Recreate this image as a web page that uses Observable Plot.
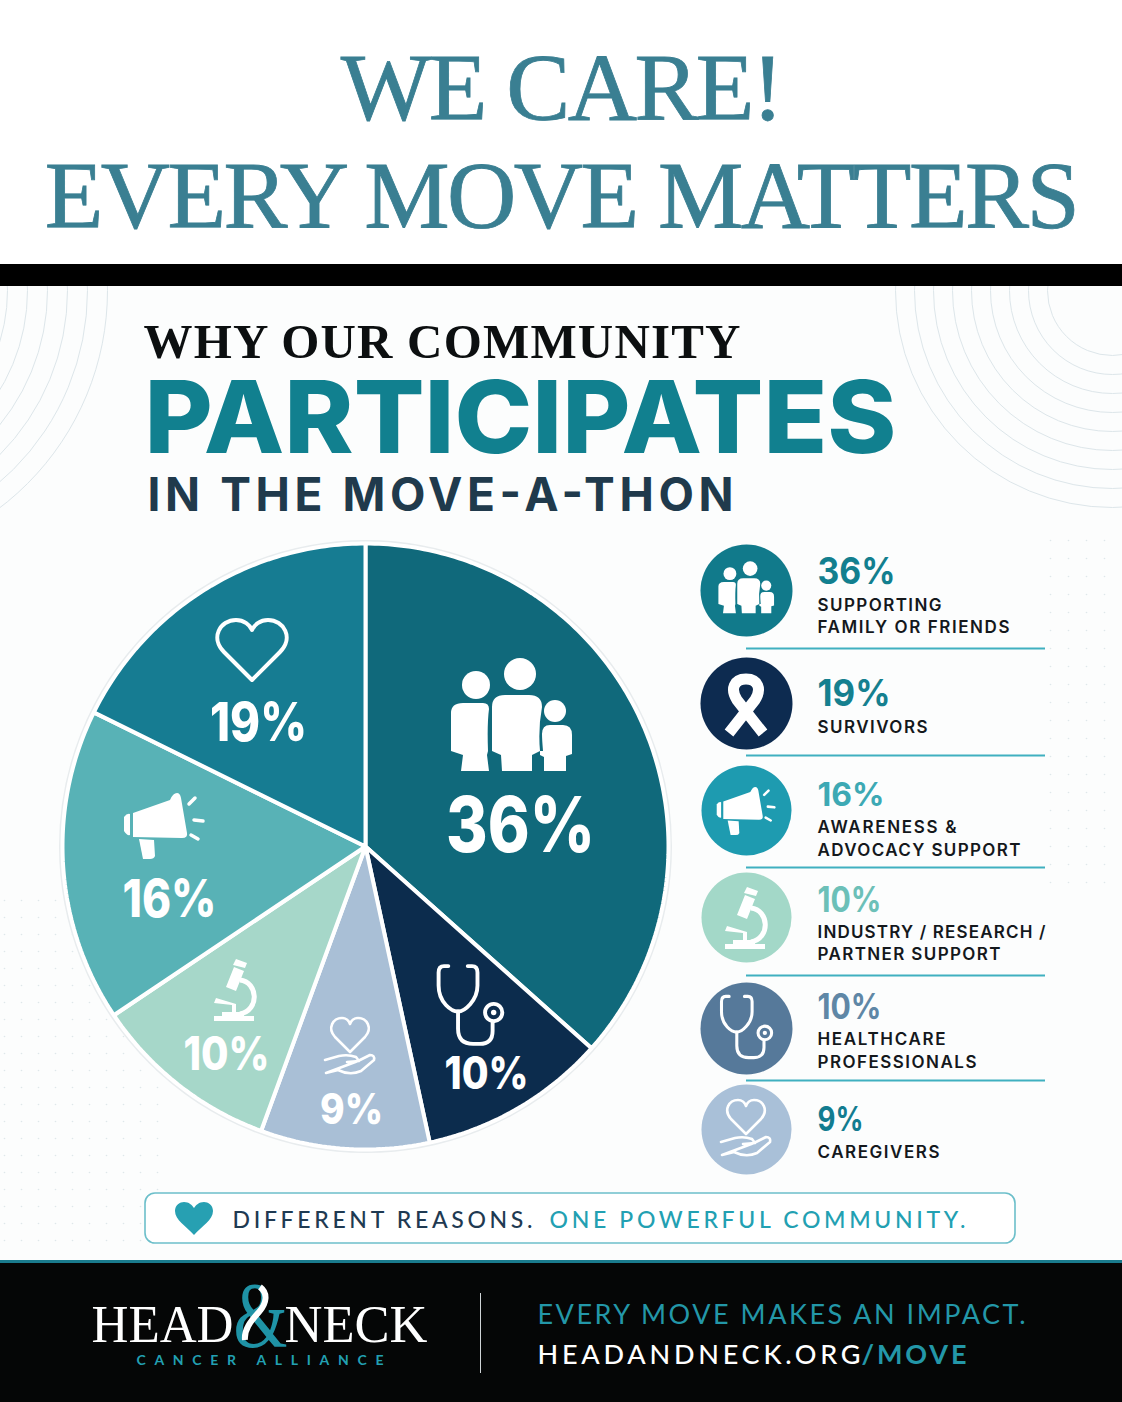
<!DOCTYPE html>
<html>
<head>
<meta charset="utf-8">
<script src="https://cdn.jsdelivr.net/npm/d3@7"></script>
<script src="https://cdn.jsdelivr.net/npm/@observablehq/plot@0.6"></script>
<style>
  html, body { margin: 0; padding: 0; background: #fff; width: 1122px; overflow-x: hidden; }
  h1 { margin: 0; height: 264px; box-sizing: border-box; padding-top: 34px; text-align: center;
       font: 400 96px/108px "Liberation Serif", serif; color: #3a7f92; letter-spacing: -2.6px; white-space: nowrap;
       -webkit-text-stroke: 0.8px #3a7f92; }
  .bar { height: 22px; background: #000; }
  #chart svg { display: block; overflow: hidden; background: #fcfdfd; }
</style>
</head>
<body>
<h1>WE CARE!<br>EVERY MOVE MATTERS</h1>
<div class="bar"></div>
<div id="chart"></div>
<script>
// ---------- Data ----------
const pieCategories = ["Supporting family or friends", "Healthcare professionals", "Caregivers", "Industry / research / partner support", "Awareness & advocacy support", "Survivors"];
const pieValues = [36, 10, 9, 10, 16, 19];          // printed labels
const sliceSweeps = [36.6, 10, 9, 10, 16.7, 17.7];
const legendValues = [36, 19, 16, 10, 10, 9];
const legendLabels = [
  ["SUPPORTING", "FAMILY OR FRIENDS"],
  ["SURVIVORS"],
  ["AWARENESS &", "ADVOCACY SUPPORT"],
  ["INDUSTRY / RESEARCH /", "PARTNER SUPPORT"],
  ["HEALTHCARE", "PROFESSIONALS"],
  ["CAREGIVERS"]
];

// ---------- Styles & layout ----------
const pieColors = ["#10697b", "#0c2c4d", "#a9bfd6", "#a6d7c9", "#58b2b6", "#167c92"];
const legendColors = ["#117a8b", "#0d2b50", "#1e9bb0", "#a3d8c8", "#56799a", "#a9c0d8"];
const legendPctColors = ["#127f8f", "#15808f", "#3da9b4", "#6cc0b8", "#5f87a6", "#127c90"];
const sans = "Inter, 'Noto Sans', sans-serif";
const lato = "Lato, 'Noto Sans', sans-serif";
const serif = "'Liberation Serif', serif";
const W = 1122, TOP = 286, BOTTOM = 1402;
const pieC = {x: 365, y: 846, r: 303};

const arcs = d3.pie().sort(null)(sliceSweeps);
const slices = arcs.flatMap((a, i) => {
  const n = Math.ceil((a.endAngle - a.startAngle) / 0.015);
  const pts = [{name: pieCategories[i], x: pieC.x, y: pieC.y}];
  for (let k = 0; k <= n; ++k) {
    const t = a.startAngle + (a.endAngle - a.startAngle) * k / n;
    pts.push({name: pieCategories[i], x: pieC.x + pieC.r * Math.sin(t), y: pieC.y - pieC.r * Math.cos(t)});
  }
  return pts;
});

const ICONS = {
  family: `<g fill="#fff"><circle cx="-35" cy="-29" r="14"/><circle cx="9" cy="-40" r="16"/><circle cx="44" cy="-3" r="11"/>
    <path d="M-60 37V-1Q-60 -11 -48 -11H-28Q-22 -11 -22 -5Q-24 10 -23 37L-24 41L-22 57H-50L-48 41Z"/>
    <path d="M-19 37V-7Q-19 -19 -6 -19H18Q31 -19 31 -7Q27 15 29 37L21 41V57H-9L-10 41Z"/>
    <path d="M29 37H32Q31 25 31 20Q31 11 39 11H52Q61 11 61 21V40L55 42V57H33V43L29 41Z"/></g>`,
  heart: `<path fill="none" stroke="#fff" stroke-width="4" stroke-linejoin="round" d="M0 30L-28 2C-42 -12 -32 -30 -16 -30C-8 -30 -2 -25 0 -20C2 -25 8 -30 16 -30C32 -30 42 -12 28 2Z"/>`,
  megaphone: `<g fill="#fff"><path d="M-27 -13L10 -26Q13 -33 17 -33Q20 -33 21 -28L27 7Q28 12 22 12L-27 11Z"/>
    <path d="M-36 -9Q-33 -13 -30 -12V9Q-33 10 -36 5Z"/><path d="M-21 13L-6 14L-5 30Q-6 33 -10 33L-17 33Z"/></g>
    <path fill="none" stroke="#fff" stroke-width="3.5" stroke-linecap="round" d="M29 -22L35 -28M34 -6L43 -5M31 9L38 13"/>`,
  microscope: `<g fill="#fff"><rect x="-20" y="26" width="40" height="5"/><path d="M-8 -3L0 -23L10 -19L2 1Z"/><path d="M-1 -25L2 -31L13 -27L11 -22Z"/>
    <path d="M-20 13L-2 15L-2 22H-12V26H10V22H2V14L-18 8Z"/></g>
    <path fill="none" stroke="#fff" stroke-width="5" d="M6 -10C24 -8 26 20 6 24"/>`,
  hand: `<path fill="none" stroke="#fff" stroke-width="2.6" stroke-linejoin="round" stroke-linecap="round" d="M0 6L-15 -9C-23 -18 -17 -28 -8 -28C-4 -28 -1 -25 0 -22C1 -25 4 -28 8 -28C17 -28 23 -18 15 -9Z M-25 14L-11 10Q-2 8 6 11L9 15L-3 16M8 15L20 9Q25 9 24 14L11 25Q0 30 -12 24L-24 27Z"/>`,
  stethoscope: `<g fill="none" stroke="#fff" stroke-width="3.6" stroke-linecap="round"><path d="M-21 -36H-25Q-30 -36 -30 -30V-18C-30 -2 -18 6 -12 6C-6 6 6 -4 6 -18V-30Q6 -36 1 -36H-3"/>
    <path d="M-12 6V22Q-12 36 2 36H8Q20 36 20 24V16"/><circle cx="21" cy="7" r="8"/></g><circle cx="21" cy="7" r="2.5" fill="#fff"/>`,
  ribbon: `<path fill="none" stroke="#fff" stroke-width="11" d="M-17 30L9 -3C16 -14 12 -24 0 -24C-12 -24 -16 -14 -9 -3L17 30"/>`
};
const iconPlacements = [
  {icon: "family", x: 511, y: 714, s: 1}, {icon: "heart", x: 252, y: 650, s: 1},
  {icon: "megaphone", x: 160, y: 826, s: 1}, {icon: "microscope", x: 234, y: 990, s: 1},
  {icon: "hand", x: 350, y: 1046, s: 1}, {icon: "stethoscope", x: 471, y: 1005, s: 1.08},
  {icon: "family", x: 746, y: 587, s: .46}, {icon: "ribbon", x: 746, y: 703, s: 1},
  {icon: "megaphone", x: 743, y: 811, s: .73}, {icon: "microscope", x: 745, y: 918, s: 1},
  {icon: "hand", x: 746, y: 1128, s: 1}, {icon: "stethoscope", x: 747, y: 1027, s: .85}
];
const iconMark = (index, {x, y}) => {
  const g = d3.create("svg:g");
  iconPlacements.forEach(p => g.append("g").attr("transform", `translate(${x(p.x)},${y(p.y)}) scale(${p.s})`).html(ICONS[p.icon]));
  return g.node();
};
const calloutHeart = (index, {x, y}) => d3.create("svg:path")
  .attr("transform", `translate(${x(194)},${y(1218)})`)
  .attr("fill", "#27a0b2")
  .attr("d", "M0 17C-8 8 -19 2 -19 -7C-19 -13 -14 -16 -10 -16C-5 -16 -2 -13 0 -10C2 -13 5 -16 10 -16C14 -16 19 -13 19 -7C19 2 8 8 0 17Z")
  .node();
const logoRibbon = (index, {x, y}) => d3.create("svg:path")
  .attr("transform", `translate(${x(258)},${y(1290)})`)
  .attr("fill", "none").attr("stroke", "#fff").attr("stroke-width", 6)
  .attr("d", "M2 -3C10 3 9 13 1 22C-8 32 -14 40 -13 50")
  .node();

// text runs: x, baseline y, size, width to fit
const run = (text, x, y, size, color, opts = {}) => ({text, x, y, size, color, font: sans, weight: 600, anchor: "start", adjust: "spacing", ...opts});
const pieLabelPos = [[520, 851, 77, 149], [486, 1088, 45, 84], [351, 1123, 43, 63], [226, 1069, 46, 86], [169, 916, 52, 94], [258, 740, 53, 97]];
const legendPctPos = [[583, 37, 78], [705, 37, 73], [805, 32, 67], [911, 35, 64], [1018, 35, 64], [1130, 34, 46]];
const legendLinePos = [[[610, 124], [632, 192]], [[732, 110]], [[832, 139], [855, 203]], [[937, 228], [959, 183]], [[1044, 128], [1067, 159]], [[1157, 122]]];
const squeeze = "spacingAndGlyphs";
const runs = [
  run("WHY OUR COMMUNITY", 143, 357, 49, "#0c0f10", {font: serif, weight: 700, width: 597}),
  run("PARTICIPATES", 144, 452, 101, "#11808f", {weight: 800, width: 752, adjust: squeeze}),
  run("IN THE MOVE-A-THON", 147, 510, 46, "#203a4c", {weight: 700, width: 586}),
  ...pieValues.map((v, i) => run(`${v}%`, pieLabelPos[i][0], pieLabelPos[i][1], pieLabelPos[i][2], "#fff", {weight: 800, anchor: "middle", width: pieLabelPos[i][3], adjust: squeeze})),
  ...legendValues.map((v, i) => run(`${v}%`, 817, legendPctPos[i][0], legendPctPos[i][1], legendPctColors[i], {weight: 700, width: legendPctPos[i][2], adjust: squeeze})),
  ...legendLabels.flatMap((ls, i) => ls.map((l, j) => run(l, 817, legendLinePos[i][j][0], 17, "#14181c", {width: legendLinePos[i][j][1]}))),
  run("DIFFERENT REASONS.", 232, 1227, 23, "#1f3a52", {font: lato, weight: 500, width: 300}),
  run("ONE POWERFUL COMMUNITY.", 549, 1227, 23, "#22a0b2", {font: lato, weight: 500, width: 416}),
  run("HEAD", 91, 1341, 52, "#fff", {font: serif, weight: 400, width: 142, adjust: squeeze}),
  run("NECK", 284, 1341, 52, "#fff", {font: serif, weight: 400, width: 143, adjust: squeeze}),
  run("&", 260, 1345, 94, "#1f93a6", {font: serif, weight: 400, anchor: "middle", width: 54, adjust: squeeze}),
  run("CANCER ALLIANCE", 136, 1364, 14, "#22a0b2", {font: lato, weight: 700, width: 247}),
  run("EVERY MOVE MAKES AN IMPACT.", 537, 1323, 27, "#2397a8", {font: lato, weight: 400, width: 488}),
  run("HEADANDNECK.ORG", 537, 1363, 27, "#fff", {font: lato, weight: 500, width: 323}),
  run("/MOVE", 861, 1363, 27, "#2397a8", {font: lato, weight: 700, width: 105})
];

const dividers = [648, 755, 867, 975, 1080];
const legendCircles = [[590, 46], [703, 46], [810, 45], [917, 45], [1028, 46], [1129, 45]];
const arcRadiiLeft = d3.range(0, 7).map(i => 273 - i * 20);
const arcRadiiRight = d3.range(0, 9).map(i => 217 - i * 19);
const grid = (x0, x1, y0, y1, step) => d3.cross(d3.range(x0, x1, step), d3.range(y0, y1, step)).map(([x, y]) => ({x, y}));

const plot = Plot.plot({
  width: W, height: BOTTOM - TOP,
  margin: 0,
  x: {domain: [0, W], range: [0, W], axis: null},
  y: {domain: [TOP, BOTTOM], range: [0, BOTTOM - TOP], axis: null},
  color: {domain: pieCategories, range: pieColors},
  marks: [
    ...arcRadiiLeft.map(r => Plot.dot([{x: -166, y: 290}], {x: "x", y: "y", r, stroke: "#dde6ea", strokeWidth: 1, fill: "none"})),
    ...arcRadiiRight.map(r => Plot.dot([{x: 1112, y: 290}], {x: "x", y: "y", r, stroke: "#dde6ea", strokeWidth: 1, fill: "none"})),
    Plot.dot(grid(4, 160, 900, 1255, 17), {x: "x", y: "y", r: 0.8, fill: "#dfe7ea"}),
    Plot.dot(grid(1050, 1122, 540, 900, 18), {x: "x", y: "y", r: 0.8, fill: "#dfe7ea"}),
    Plot.dot([pieC], {x: "x", y: "y", r: pieC.r + 2, fill: "#fff", stroke: "#e8ecee", strokeWidth: 3}),
    Plot.line(slices, {x: "x", y: "y", z: "name", fill: "name", stroke: "#fff", strokeWidth: 4, curve: "linear-closed", strokeLinejoin: "miter"}),
    Plot.ruleY(dividers, {x1: 746, x2: 1045, y: d => d, stroke: "#3fb0c0", strokeWidth: 2}),
    ...legendCircles.map(([y, r], i) => Plot.dot([{x: 746, y}], {x: "x", y: "y", r, fill: legendColors[i]})),
    Plot.rect([{x1: 145, x2: 1015, y1: 1193, y2: 1243}], {x1: "x1", x2: "x2", y1: "y1", y2: "y2", rx: 10, fill: "#fff", stroke: "#6cbfca", strokeWidth: 1.6}),
    calloutHeart,
    Plot.rect([{x1: 0, x2: W, y1: 1260, y2: 1402}], {x1: "x1", x2: "x2", y1: "y1", y2: "y2", fill: "#050606"}),
    Plot.rect([{x1: 0, x2: W, y1: 1260, y2: 1263}], {x1: "x1", x2: "x2", y1: "y1", y2: "y2", fill: "#1a7b8d"}),
    Plot.ruleX([480], {y1: 1293, y2: 1373, stroke: "#cfd4d6", strokeWidth: 1}),
    iconMark,
    ...runs.map(r => Plot.text([r], {x: "x", y: "y", text: "text", fill: r.color, fontSize: r.size, fontFamily: r.font, fontWeight: r.weight, textAnchor: r.anchor, lineAnchor: "bottom"})),
    logoRibbon
  ]
});
// fit each run to its measured width
plot.querySelectorAll('g[aria-label="text"]').forEach((g, i) => {
  const t = g.querySelector("text");
  if (t && runs[i] && runs[i].width) {
    t.setAttribute("textLength", runs[i].width);
    t.setAttribute("lengthAdjust", runs[i].adjust);
  }
});
document.getElementById("chart").appendChild(plot);
</script>
</body>
</html>
